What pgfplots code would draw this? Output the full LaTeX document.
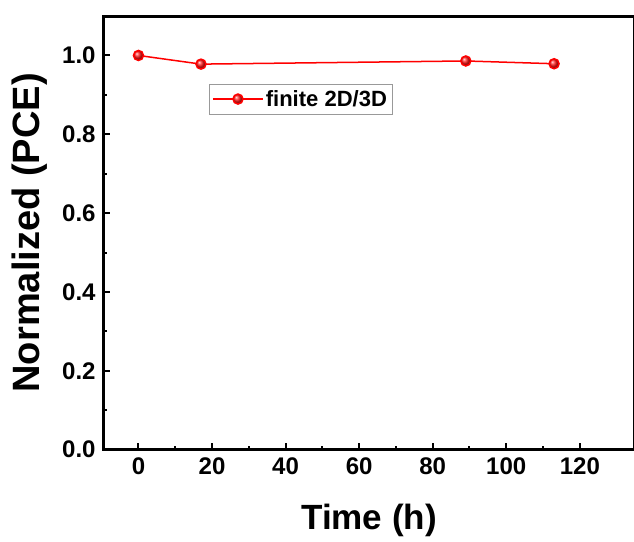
\documentclass[border=0pt]{standalone}
\usepackage{fontspec}
\setmainfont{Liberation Sans}
\usepackage{pgfplots}
\pgfplotsset{compat=1.18}

\begin{document}
\begin{tikzpicture}[x=1pt,y=1pt]
\begin{axis}[
  at={(0,0)}, anchor=south west,
  scale only axis, width=531pt, height=433pt,
  xmin=-9.6, xmax=135, ymin=0, ymax=1.1,
  xtick={0,20,...,120}, ytick={0,0.2,...,1.0},
  minor x tick num=1, minor y tick num=1,
  xtick pos=bottom, ytick pos=left,
  tick align=inside,
  major tick length=7pt, minor tick length=4pt,
  every tick/.style={black, line width=2pt},
  axis line style={line width=3pt},
  /pgf/number format/assume math mode=true,
  ticklabel style={font=\fontsize{24}{28}\selectfont\bfseries},
  yticklabel style={/pgf/number format/fixed, /pgf/number format/fixed zerofill,
    /pgf/number format/precision=1, xshift=-4pt},
  xticklabel style={yshift=-4pt},
  xlabel={Time (h)}, ylabel={Normalized (PCE)},
  xlabel style={font=\fontsize{35}{40}\selectfont\bfseries,
    at={(axis description cs:0.5,0)}, anchor=center, yshift=-71pt},
  ylabel style={font=\fontsize{38}{44}\selectfont\bfseries,
    at={(axis description cs:-0.1375,0.5)}, anchor=center},
  legend style={at={(rel axis cs:0.199,0.843)}, anchor=north west,
    draw=gray!80, font=\fontsize{22}{25}\selectfont\bfseries,
    inner xsep=3pt, inner ysep=4pt},
  legend image code/.code={%
    \draw[line width=1.5pt, mark repeat=2, mark phase=2]
      plot coordinates {(0pt,0pt) (25pt,0pt) (50pt,0pt)};},
  legend cell align=left,
  clip=false,
]
\addplot[red, line width=1.5pt, mark=ball, mark size=5pt,
    mark options={ball color=red!90!white}]
  coordinates {(0,1.0) (17,0.978) (89,0.986) (113,0.979)};
\addlegendentry{finite 2D/3D}
\end{axis}
\pgfresetboundingbox
\useasboundingbox (-103,-92) rectangle (530,449);
\end{tikzpicture}
\end{document}
